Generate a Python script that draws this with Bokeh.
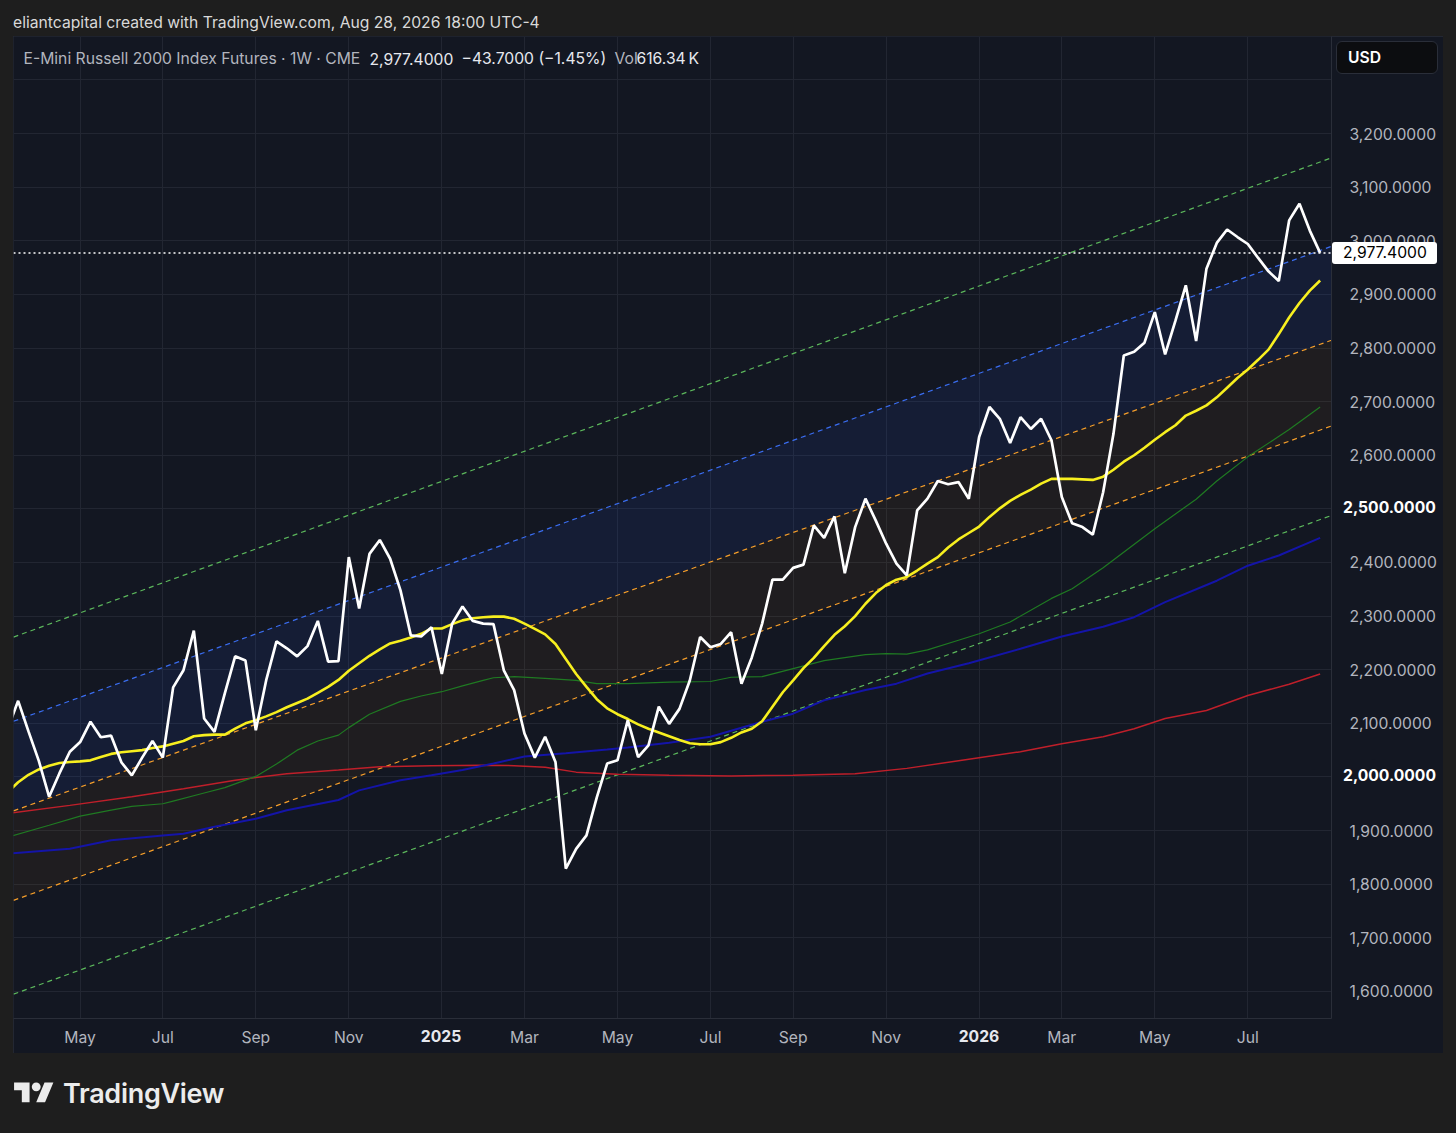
import datetime as dt
from bokeh.plotting import figure
from bokeh.models import Range1d, FixedTicker, NumeralTickFormatter, Label, Span, Div, Spacer
from bokeh.layouts import column, row
from bokeh.embed import file_html
from bokeh.resources import INLINE

# ---------------- data ----------------
first_week = dt.date(2024, 3, 18)          # first weekly bar

close = [2090, 2142, 2085, 2030, 1963, 2007, 2047, 2065, 2103, 2074,
         2077, 2027, 2003, 2036, 2067, 2036, 2167, 2199, 2273, 2109,
         2084, 2156, 2225, 2217, 2087, 2180, 2253, 2240, 2225, 2244,
         2291, 2215, 2216, 2410, 2314, 2416, 2442, 2407, 2348, 2264,
         2262, 2279, 2192, 2286, 2318, 2291, 2286, 2285, 2199, 2162,
         2081, 2036, 2075, 2028, 1829, 1866, 1891, 1962, 2025, 2031,
         2106, 2037, 2059, 2131, 2099, 2127, 2180, 2261, 2242, 2248,
         2270, 2174, 2223, 2286, 2368, 2368, 2390, 2396, 2469, 2446,
         2486, 2380, 2466, 2519, 2478, 2435, 2398, 2376, 2497, 2519,
         2552, 2546, 2550, 2519, 2634, 2690, 2668, 2623, 2671, 2649,
         2668, 2628, 2522, 2473, 2466, 2452, 2531, 2640, 2786, 2793,
         2810, 2867, 2788, 2851, 2917, 2813, 2948, 2996, 3021, 3007,
         2994, 2968, 2943, 2925, 3038, 3069, 3019, 2977.4]

ma_yellow = [1972, 1990, 2004, 2014, 2021, 2026, 2028, 2029, 2031, 2037,
             2043, 2046, 2048, 2050, 2054, 2057, 2062, 2067, 2076, 2078,
             2079, 2079, 2090, 2100, 2106, 2113, 2121, 2130, 2138, 2146,
             2157, 2168, 2181, 2198, 2212, 2226, 2238, 2249, 2254, 2260,
             2267, 2277, 2277, 2285, 2292, 2296, 2298, 2299, 2299, 2295,
             2286, 2276, 2266, 2248, 2220, 2192, 2168, 2145, 2128, 2117,
             2108, 2098, 2090, 2083, 2076, 2069, 2063, 2061, 2061, 2065,
             2073, 2083, 2090, 2104, 2131, 2158, 2180, 2203, 2222, 2244,
             2265, 2281, 2300, 2323, 2343, 2358, 2368, 2373, 2385, 2398,
             2410, 2428, 2443, 2455, 2467, 2485, 2501, 2515, 2526, 2536,
             2547, 2556, 2556, 2556, 2555, 2554, 2560, 2573, 2588, 2600,
             2614, 2629, 2643, 2656, 2674, 2683, 2693, 2708, 2726, 2744,
             2760, 2778, 2797, 2826, 2857, 2884, 2907, 2926]

green_wk = [0, 4, 7, 10, 12, 15, 16, 19, 21, 24, 26, 28, 30, 32, 33, 35, 38, 40,
            42, 44, 46, 47, 49, 52, 55, 57, 60, 64, 68, 70, 73, 76, 79, 83, 85,
            87, 89, 92, 94, 97, 101, 103, 106, 111, 115, 117, 120, 124, 127]
green_ma = [1888, 1910, 1927, 1938, 1945, 1950, 1955, 1970, 1980, 2001, 2024,
            2050, 2067, 2078, 2092, 2117, 2141, 2151, 2159, 2170, 2180, 2185,
            2187, 2184, 2180, 2174, 2174, 2177, 2178, 2186, 2187, 2202, 2217,
            2228, 2230, 2229, 2237, 2255, 2267, 2289, 2333, 2351, 2390, 2463,
            2518, 2552, 2597, 2648, 2690]

blue_wk = [0, 6, 10, 15, 17, 20, 24, 27, 32, 34, 38, 41, 44, 47, 50, 54, 58, 60,
           64, 68, 73, 76, 79, 83, 86, 89, 93, 98, 102, 106, 109, 112, 117, 120,
           123, 127]
blue_ma = [1857, 1866, 1882, 1891, 1894, 1907, 1922, 1938, 1957, 1975, 1994,
           2003, 2013, 2025, 2038, 2044, 2051, 2055, 2064, 2075, 2103, 2118,
           2143, 2162, 2174, 2193, 2212, 2239, 2262, 2280, 2298, 2326, 2366,
           2394, 2413, 2446]

red_wk = [0, 6, 12, 17, 22, 27, 32, 36, 41, 46, 49, 52, 55, 59, 64, 70, 76, 82,
          87, 93, 98, 102, 106, 109, 112, 116, 120, 124, 127]
red_ma = [1932, 1947, 1963, 1978, 1994, 2006, 2013, 2019, 2021, 2022, 2021,
          2018, 2009, 2005, 2003, 2002, 2003, 2006, 2016, 2033, 2047, 2062,
          2075, 2090, 2109, 2124, 2152, 2173, 2192]

# regression-channel lines: value at first bar (week 0) and at last bar (week 127)
chan_wk = [0, 127]
chan_green_hi = [2257, 3147]
chan_blue_hi = [2100, 2982]
chan_orange_hi = [1933, 2807]
chan_orange_lo = [1766, 2647]
chan_green_lo = [1591, 2480]

last_close = 2977.4
change_txt = "\u221243.7000 (\u22121.45%)"
volume_txt = "616.34\u2009K"
price_ticks = list(range(1600, 3400, 100))
bold_prices = [2500, 2000]

# ---------------- styling ----------------
PAGE_BG = "#1e1e1e"
CHART_BG = "#131722"
GRID = "#222632"
BORDER = "#2a2e39"
TXT = "#b2b5be"
TXT_HI = "#e6e8ee"
FONT = "Inter"
FS = "15.7px"

weeks = list(range(len(close)))
dates = [first_week + dt.timedelta(days=7 * i) for i in weeks]

tick_wk, tick_lbl = [], []
for i in range(1, len(dates)):
    if dates[i].month != dates[i - 1].month and dates[i].month % 2 == 1:
        tick_wk.append(i)
        tick_lbl.append(str(dates[i].year) if dates[i].month == 1 else dates[i].strftime("%b"))

x0, x1 = 0.55, 128.1
y0, y1 = 1549.5, 3381.0
FRAME_W, FRAME_H = 1318, 982
PAGE_FRAME_LEFT, PAGE_FRAME_TOP = 13, 36

p = figure(width=FRAME_W + 112, height=FRAME_H + 35, x_range=Range1d(x0, x1), y_range=Range1d(y0, y1),
           y_axis_location="right", toolbar_location=None, output_backend="svg",
           background_fill_color=CHART_BG, border_fill_color=CHART_BG,
           min_border_left=0, min_border_top=0, min_border_right=112, min_border_bottom=35,
           styles={"outline": "1px solid " + BORDER, "outline-offset": "-1px"})
p.outline_line_color = None
p.title.visible = False

p.xaxis.ticker = FixedTicker(ticks=tick_wk)
p.xgrid.ticker = FixedTicker(ticks=tick_wk)
p.xaxis.major_label_overrides = {w: l for w, l in zip(tick_wk, tick_lbl)}
p.yaxis.ticker = FixedTicker(ticks=price_ticks)
p.ygrid.ticker = FixedTicker(ticks=price_ticks)
p.yaxis.formatter = NumeralTickFormatter(format="0,0.0000")
p.yaxis.major_label_overrides = {3300: ""}

for ax in (p.xaxis[0], p.yaxis[0]):
    ax.axis_line_color = BORDER
    ax.major_tick_line_color = None
    ax.minor_tick_line_color = None
    ax.major_label_text_color = TXT
    ax.major_label_text_font = FONT
    ax.major_label_text_font_size = FS
p.yaxis.major_label_standoff = 12
p.xaxis.major_label_standoff = 3
p.xgrid.grid_line_color = GRID
p.ygrid.grid_line_color = GRID


def extend(v):
    slope = (v[1] - v[0]) / (chan_wk[1] - chan_wk[0])
    return [v[0] + slope * (x0 - chan_wk[0]), v[0] + slope * (x1 - chan_wk[0])]


xx = [x0, x1]
p.varea(x=xx, y1=extend(chan_orange_hi), y2=extend(chan_blue_hi), fill_color="#2962ff", fill_alpha=0.09)
p.varea(x=xx, y1=extend(chan_orange_lo), y2=extend(chan_orange_hi), fill_color="#ff9800", fill_alpha=0.05)

for vals, col in ((chan_green_hi, "#5cb85c"), (chan_blue_hi, "#3a6df0"),
                  (chan_orange_hi, "#f59e2a"), (chan_orange_lo, "#f59e2a"),
                  (chan_green_lo, "#5cb85c")):
    p.line(xx, extend(vals), line_color=col, line_width=1.2, line_dash="5 4")

p.line(red_wk, red_ma, line_color="#bf1f2a", line_width=1.5)
p.line(blue_wk, blue_ma, line_color="#1414a8", line_width=2)
p.line(green_wk, green_ma, line_color="#1f7a22", line_width=1.2)
p.line(weeks, ma_yellow, line_color="#f7ef1f", line_width=2.6)
p.line(weeks, close, line_color="#ffffff", line_width=2.7)

p.add_layout(Span(location=last_close, dimension="width", line_color="#ffffff",
                  line_dash="2 3", line_width=1.5))


def lab(**kw):
    base = dict(text_font=FONT, text_font_size=FS, text_baseline="middle", text_align="left",
                x_units="screen", y_units="screen")
    base.update(kw)
    p.add_layout(Label(**base))


# legend line inside the chart
LY = FRAME_H - 22
lab(x=10, y=LY, text="E-Mini Russell 2000 Index Futures \u00b7 1W \u00b7 CME", text_color=TXT)
lab(x=356, y=LY, text="{:,.4f}".format(last_close), text_color=TXT_HI)
lab(x=448, y=LY, text=change_txt, text_color=TXT_HI)
lab(x=601, y=LY, text="Vol", text_color=TXT)
lab(x=623, y=LY, text=volume_txt, text_color=TXT_HI)

# ---------------- page pieces ----------------
px_per_wk = FRAME_W / (x1 - x0)
px_per_pt = FRAME_H / (y1 - y0)


def page_x(w):
    return PAGE_FRAME_LEFT + (w - x0) * px_per_wk


def page_y(v):
    return PAGE_FRAME_TOP + (y1 - v) * px_per_pt


header = Div(text='<div style="font:%s Inter,sans-serif;color:#d9d9d9;padding:8px 0 0 8px;'
                  'white-space:nowrap">eliantcapital created with TradingView.com, Aug 28, 2026 18:00 UTC-4</div>' % FS,
             width=1456, height=26)

box = ('<div style="position:fixed;z-index:20;left:%dpx;top:%dpx;width:%dpx;height:%dpx;box-sizing:border-box;'
       'background:%s;%scolor:%s;font:%s %s Inter,sans-serif;line-height:%dpx;text-align:%s;padding-left:%dpx;'
       'white-space:nowrap;">%s</div>')
overlay = box % (1336, 41, 102, 33, "#0c0d10", "border:1px solid %s;border-radius:6px;" % BORDER,
                 "#ffffff", 600, FS, 31, "left", 11, "USD")
overlay += box % (1332, round(page_y(last_close)) - 10, 105, 22, "#ffffff", "border-radius:3px;",
                  "#000000", 400, FS, 22, "left", 11, "{:,.4f}".format(last_close))
# emphasised (bold) scale labels, as on the original price / time scales
for b in bold_prices:
    overlay += box % (1339, round(page_y(b)) - 10, 102, 20, CHART_BG, "", "#ffffff", 700, FS, 20,
                      "left", 4, "{:,.4f}".format(b))
for w, l in zip(tick_wk, tick_lbl):
    if l.isdigit():
        overlay += box % (round(page_x(w)) - 26, 1027, 52, 20, CHART_BG, "", "#e6e8ee", 700, FS, 20,
                          "center", 0, l)

logo = ('<div style="display:flex;align-items:center;padding:19px 0 0 9px;">'
        '<svg width="40" height="31" viewBox="0 0 36 28"><path d="M14 22H7V11H0V4h14v18zM28 22h-8l7.5-18h8L28 22z" '
        'fill="#ececec"/><circle cx="20" cy="8" r="4" fill="#ececec"/></svg>'
        '<span style="margin-left:9px;font:600 27px Inter,sans-serif;color:#ececec;letter-spacing:-0.3px">'
        'TradingView</span></div>' + overlay)
footer = Div(text=logo, width=1456, height=70)

layout = column(header, row(Spacer(width=13, height=FRAME_H + 35), p), footer)

html = file_html(layout, INLINE, title="E-Mini Russell 2000 Index Futures")
html = html.replace("</head>", "<style>html,body{background:%s;}</style></head>" % PAGE_BG, 1)
open("out.html", "w").write(html)
